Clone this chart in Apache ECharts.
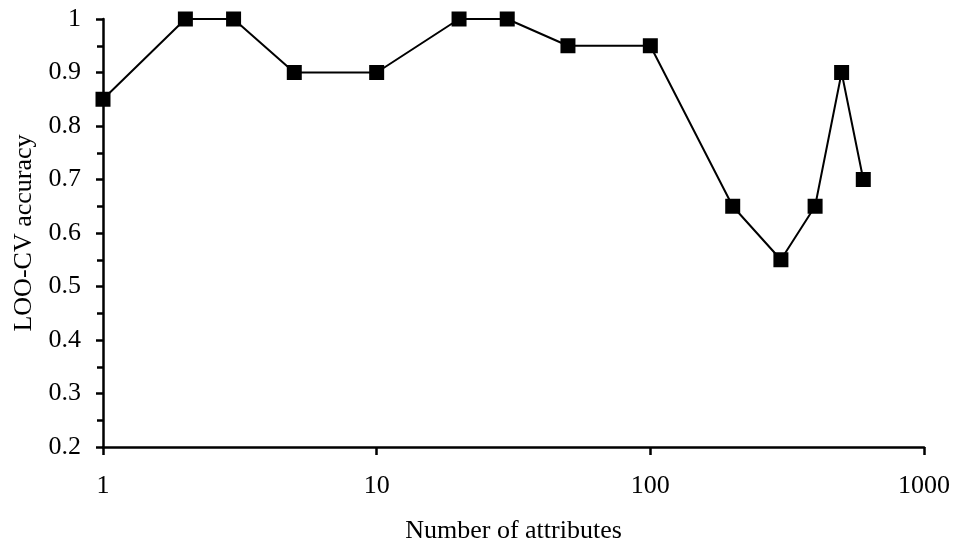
<!DOCTYPE html>
<html>
<head>
<meta charset="utf-8">
<script src="https://cdn.jsdelivr.net/npm/echarts@6/dist/echarts.min.js"></script>
<style>html,body{margin:0;padding:0;background:#fff}#c{width:955px;height:546px}</style>
</head>
<body>
<div id="c"></div>
<script>
const attributes = [1, 2, 3, 5, 10, 20, 30, 50, 100, 200, 300, 400, 500, 600];
const accuracy = [0.85, 1, 1, 0.9, 0.9, 1, 1, 0.95, 0.95, 0.65, 0.55, 0.65, 0.9, 0.7];
const xTicks = [1, 10, 100, 1000];
const yTicks = [0.2, 0.3, 0.4, 0.5, 0.6, 0.7, 0.8, 0.9, 1];

const font = 'Liberation Serif';
const chart = echarts.init(document.getElementById('c'));
chart.setOption({
  animation: false,
  grid: {left: 103, right: 31, top: 19, bottom: 99, containLabel: false, outerBoundsMode: 'none'},
  xAxis: {
    type: 'log', logBase: 10, min: xTicks[0], max: xTicks[xTicks.length - 1],
    name: 'Number of attributes', nameLocation: 'middle', nameGap: 71,
    nameTextStyle: {fontFamily: font, fontSize: 26, color: '#000'},
    axisLine: {lineStyle: {color: '#000', width: 2.5}},
    axisTick: {show: true, length: 8, lineStyle: {color: '#000', width: 2.5}},
    minorTick: {show: false},
    splitLine: {show: false},
    axisLabel: {fontFamily: font, fontSize: 26, color: '#000', margin: 26, formatter: v => String(Math.round(v))}
  },
  yAxis: {
    type: 'value', min: yTicks[0], max: yTicks[yTicks.length - 1], interval: 0.1,
    name: 'LOO-CV accuracy', nameLocation: 'middle', nameRotate: 90, nameGap: 65,
    nameTextStyle: {fontFamily: font, fontSize: 26, color: '#000'},
    axisLine: {show: true, lineStyle: {color: '#000', width: 2.5}},
    axisTick: {show: true, length: 7, lineStyle: {color: '#000', width: 2.5}},
    minorTick: {show: true, splitNumber: 2, length: 6, lineStyle: {color: '#000', width: 2.5}},
    splitLine: {show: false},
    axisLabel: {fontFamily: font, fontSize: 26, color: '#000', margin: 22, formatter: v => String(+v.toFixed(2))}
  },
  series: [{
    type: 'line',
    data: attributes.map((a, i) => [a, accuracy[i]]),
    symbol: 'rect', symbolSize: 15,
    lineStyle: {color: '#000', width: 2},
    itemStyle: {color: '#000'}
  }]
});
</script>
</body>
</html>
